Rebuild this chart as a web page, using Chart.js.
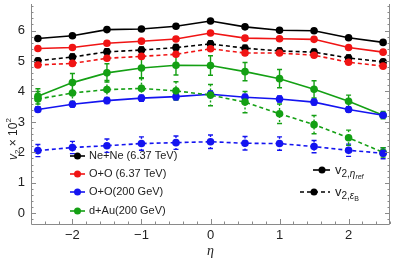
<!DOCTYPE html>
<html>
<head>
<meta charset="utf-8">
<script src="https://cdn.jsdelivr.net/npm/chart.js@4.4.1/dist/chart.umd.min.js"></script>
<style>
  html, body { margin: 0; padding: 0; background: #fff; }
  canvas { display: block; }
</style>
</head>
<body>
<canvas id="myChart" width="394" height="262"></canvas>
<script>
// pseudorapidity bins
const eta = [-2.5, -2, -1.5, -1, -0.5, 0, 0.5, 1, 1.5, 2, 2.5];

// v2 x 10^2, reference-eta method (solid)
const neneRef   = [5.74, 5.83, 6.03, 6.05, 6.14, 6.31, 6.12, 6.01, 5.99, 5.76, 5.61];
const ooLhcRef  = [5.41, 5.44, 5.58, 5.65, 5.72, 5.92, 5.75, 5.73, 5.71, 5.44, 5.29];
const ooRhicRef = [3.41, 3.58, 3.70, 3.78, 3.83, 3.91, 3.81, 3.75, 3.65, 3.41, 3.22];
const dauRef    = [3.84, 4.29, 4.61, 4.77, 4.86, 4.85, 4.65, 4.42, 4.07, 3.68, 3.22];

// v2 x 10^2, eps_B method (dashed)
const neneEps   = [5.01, 5.13, 5.30, 5.36, 5.44, 5.56, 5.42, 5.33, 5.29, 5.10, 4.97];
const ooLhcEps  = [4.87, 4.92, 5.09, 5.15, 5.22, 5.40, 5.26, 5.26, 5.19, 4.96, 4.83];
const ooRhicEps = [2.06, 2.16, 2.22, 2.29, 2.32, 2.35, 2.30, 2.29, 2.19, 2.07, 1.97];
const dauEps    = [3.75, 3.95, 4.06, 4.10, 4.02, 3.88, 3.65, 3.27, 2.91, 2.48, 2.00];

// errors
const neneRefErr   = [0.05, 0.05, 0.06, 0.06, 0.06, 0.07, 0.06, 0.06, 0.06, 0.05, 0.05];
const ooLhcRefErr  = [0.05, 0.05, 0.06, 0.06, 0.06, 0.07, 0.06, 0.06, 0.06, 0.05, 0.05];
const ooRhicRefErr = [0.08, 0.09, 0.10, 0.10, 0.10, 0.11, 0.10, 0.10, 0.10, 0.09, 0.08];
const dauRefErr    = [0.25, 0.30, 0.30, 0.32, 0.32, 0.32, 0.30, 0.30, 0.28, 0.20, 0.12];
const neneEpsErr   = [0.08, 0.10, 0.10, 0.10, 0.10, 0.10, 0.10, 0.10, 0.10, 0.10, 0.08];
const ooLhcEpsErr  = [0.06, 0.06, 0.07, 0.07, 0.07, 0.08, 0.07, 0.07, 0.07, 0.06, 0.06];
const ooRhicEpsErr = [0.20, 0.20, 0.22, 0.22, 0.22, 0.22, 0.22, 0.22, 0.20, 0.20, 0.18];
const dauEpsErr    = [0.25, 0.28, 0.30, 0.32, 0.30, 0.35, 0.35, 0.32, 0.30, 0.25, 0.15];

const xTicks = [-2, -1, 0, 1, 2];
const yTicks = [0, 1, 2, 3, 4, 5, 6];

const legendLabels = ['Ne+Ne (6.37 TeV)', 'O+O (6.37 TeV)', 'O+O(200 GeV)', 'd+Au(200 GeV)'];

const BLACK = '#000000';
const RED = '#f01414';
const BLUE = '#1414f0';
const GREEN = '#14a014';
const DASH = [4, 3];

function pts(ys, errs) {
    return ys.map((y, i) => ({ x: eta[i], y: y, err: errs[i] }));
}

function serie(ys, errs, color, dashed) {
    return {
        data: pts(ys, errs),
        borderColor: color,
        backgroundColor: color,
        borderWidth: 1.6,
        borderDash: dashed ? DASH : [],
        pointRadius: 3.8,
        pointBorderWidth: 0,
        showLine: true,
        dashed: dashed
    };
}

// order: dashed first so solid sits on top
const datasets = [
    serie(ooRhicEps, ooRhicEpsErr, BLUE, true),
    serie(dauEps, dauEpsErr, GREEN, true),
    serie(ooLhcEps, ooLhcEpsErr, RED, true),
    serie(neneEps, neneEpsErr, BLACK, true),
    serie(ooRhicRef, ooRhicRefErr, BLUE, false),
    serie(dauRef, dauRefErr, GREEN, false),
    serie(ooLhcRef, ooLhcRefErr, RED, false),
    serie(neneRef, neneRefErr, BLACK, false)
];

const errorBars = {
    id: 'errorBars',
    beforeDatasetsDraw(chart) {
        const c = chart.ctx;
        const xs = chart.scales.x, ys = chart.scales.y;
        c.save();
        chart.data.datasets.forEach(ds => {
            c.strokeStyle = ds.borderColor;
            c.lineWidth = 1.4;
            ds.data.forEach(p => {
                const px = xs.getPixelForValue(p.x);
                const y1 = ys.getPixelForValue(p.y + p.err);
                const y2 = ys.getPixelForValue(p.y - p.err);
                c.setLineDash(ds.dashed ? [2, 2] : []);
                c.beginPath();
                c.moveTo(px, y1); c.lineTo(px, y2);
                c.stroke();
                c.setLineDash([]);
                c.beginPath();
                c.moveTo(px - 2.5, y1); c.lineTo(px + 2.5, y1);
                c.moveTo(px - 2.5, y2); c.lineTo(px + 2.5, y2);
                c.stroke();
            });
        });
        c.restore();
    }
};

const frame = {
    id: 'frame',
    afterDraw(chart) {
        const c = chart.ctx;
        const a = chart.chartArea;
        const xs = chart.scales.x, ys = chart.scales.y;
        c.save();
        c.strokeStyle = '#8a8a8a';
        c.lineWidth = 1;
        c.beginPath();
        c.moveTo(a.left + 0.5, a.top);
        c.lineTo(a.left + 0.5, a.bottom + 0.5);
        c.lineTo(a.right - 0.5, a.bottom + 0.5);
        c.lineTo(a.right - 0.5, a.top);
        c.stroke();
        // inner ticks
        c.beginPath();
        for (let k = -13; k <= 13; k++) {
            const v = k / 5;
            const px = Math.round(xs.getPixelForValue(v)) + 0.5;
            const len = (k % 5 === 0) ? 5 : 2.5;
            c.moveTo(px, a.bottom); c.lineTo(px, a.bottom - len);
        }
        for (let k = -1; k <= 34; k++) {
            const v = k / 5;
            if (v < ys.min || v > ys.max) continue;
            const py = Math.round(ys.getPixelForValue(v)) + 0.5;
            const len = (k % 5 === 0) ? 5 : 2.5;
            c.moveTo(a.left, py); c.lineTo(a.left + len, py);
            c.moveTo(a.right, py); c.lineTo(a.right - len, py);
        }
        c.stroke();

        // y title
        c.fillStyle = '#222';
        c.translate(13, 130);
        c.rotate(-Math.PI / 2);
        c.textBaseline = 'alphabetic';
        c.textAlign = 'left';
        let x = -30;
        c.font = 'italic 12px "Liberation Sans", Arial, sans-serif';
        c.fillText('v', x, 4); x += c.measureText('v').width;
        c.font = '8px "Liberation Sans", Arial, sans-serif';
        c.fillText('2', x, 7); x += c.measureText('2').width;
        c.font = '12px "Liberation Sans", Arial, sans-serif';
        c.fillText(' \u00d7 10', x, 4); x += c.measureText(' \u00d7 10').width;
        c.font = '8px "Liberation Sans", Arial, sans-serif';
        c.fillText('2', x, -2);
        c.restore();

        // legend of systems
        c.save();
        c.textBaseline = 'middle';
        c.font = '11px "Liberation Sans", Arial, sans-serif';
        const cols = [BLACK, RED, BLUE, GREEN];
        const rows = [156, 174, 192, 211];
        legendLabels.forEach((t, i) => {
            c.strokeStyle = cols[i];
            c.fillStyle = cols[i];
            c.lineWidth = 1.6;
            c.beginPath(); c.moveTo(70, rows[i]); c.lineTo(85, rows[i]); c.stroke();
            c.beginPath(); c.arc(77.5, rows[i], 3.5, 0, Math.PI * 2); c.fill();
            c.fillStyle = '#222';
            c.fillText(t, 89, rows[i]);
        });

        // legend of methods
        c.strokeStyle = BLACK; c.fillStyle = BLACK; c.lineWidth = 1.6;
        c.beginPath(); c.moveTo(313, 170); c.lineTo(330, 170); c.stroke();
        c.beginPath(); c.arc(322, 170, 3.5, 0, Math.PI * 2); c.fill();
        c.setLineDash(DASH);
        c.beginPath(); c.moveTo(300, 192); c.lineTo(330, 192); c.stroke();
        c.setLineDash([]);
        c.beginPath(); c.arc(314, 192, 3.5, 0, Math.PI * 2); c.fill();

        c.fillStyle = '#222';
        c.textBaseline = 'alphabetic';
        let lx = 335;
        c.font = '13px "Liberation Sans", Arial, sans-serif';
        c.fillText('v', lx, 174); lx += c.measureText('v').width;
        c.font = '10px "Liberation Sans", Arial, sans-serif';
        c.fillText('2,', lx, 177); lx += c.measureText('2,').width;
        c.font = 'italic 10px "Liberation Sans", Arial, sans-serif';
        c.fillText('\u03b7', lx, 177); lx += c.measureText('\u03b7').width;
        c.font = 'italic 7px "Liberation Sans", Arial, sans-serif';
        c.fillText('ref', lx, 179);

        lx = 335;
        c.font = '13px "Liberation Sans", Arial, sans-serif';
        c.fillText('v', lx, 196); lx += c.measureText('v').width;
        c.font = '10px "Liberation Sans", Arial, sans-serif';
        c.fillText('2,', lx, 199); lx += c.measureText('2,').width;
        c.font = 'italic 10px "Liberation Sans", Arial, sans-serif';
        c.fillText('\u03b5', lx, 199); lx += c.measureText('\u03b5').width;
        c.font = '7px "Liberation Sans", Arial, sans-serif';
        c.fillText('B', lx, 201);
        c.restore();
    }
};

const ctx = document.getElementById('myChart');

const config = {
    type: 'scatter',
    data: { datasets: datasets },
    options: {
        responsive: false,
        animation: false,
        layout: { padding: { top: 0, right: 2, left: 0, bottom: 0 } },
        scales: {
            x: {
                type: 'linear',
                min: -2.6,
                max: 2.6,
                afterFit: s => {
                    s.height = 38;
                    s.paddingLeft = 0; s.paddingRight = 0;
                },
                afterBuildTicks: s => { s.ticks = xTicks.map(v => ({ value: v })); },
                grid: { display: false, drawTicks: false },
                border: { display: false },
                ticks: {
                    padding: 4,
                    color: '#222',
                    font: { size: 13, family: '"Liberation Sans", Arial, sans-serif' },
                    callback: v => (v < 0 ? '\u2212' + Math.abs(v) : '' + v)
                },
                title: {
                    display: true,
                    text: '\u03b7',
                    color: '#222',
                    padding: { top: 0, bottom: 2 },
                    font: { size: 14, style: 'italic', family: '"Liberation Serif", serif' }
                }
            },
            y: {
                min: -0.35,
                max: 6.87,
                afterFit: s => {
                    s.width = 31;
                    s.paddingTop = 0; s.paddingBottom = 0;
                },
                afterBuildTicks: s => { s.ticks = yTicks.map(v => ({ value: v })); },
                grid: { display: false, drawTicks: false },
                border: { display: false },
                ticks: {
                    padding: 6,
                    color: '#222',
                    font: { size: 13, family: '"Liberation Sans", Arial, sans-serif' }
                }
            }
        },
        plugins: {
            legend: { display: false },
            tooltip: { enabled: false }
        }
    },
    plugins: [errorBars, frame]
};

if (ctx) {
    new Chart(ctx, config);
}
</script>
</body>
</html>
